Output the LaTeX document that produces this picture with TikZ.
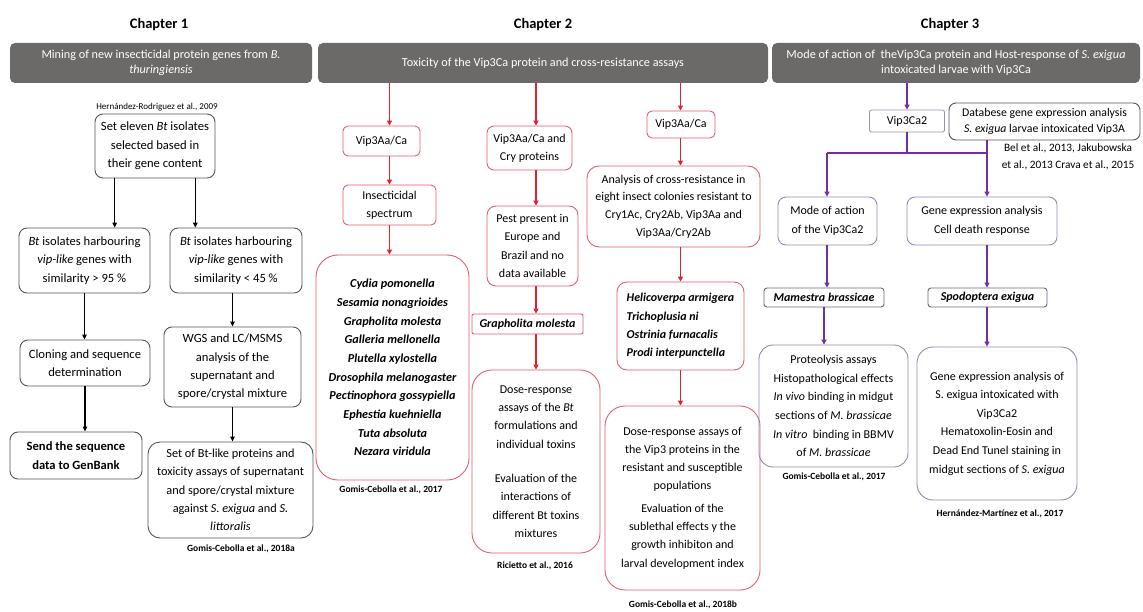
\documentclass[tikz,border=0pt]{standalone}
\usepackage{fontspec}
\setmainfont{Carlito}
\usetikzlibrary{arrows.meta,calc}
\definecolor{bangray}{RGB}{108,105,105}
\definecolor{boxgray}{RGB}{85,85,85}
\definecolor{redarr}{RGB}{222,35,45}
\definecolor{redbox}{RGB}{225,95,110}
\definecolor{purarr}{RGB}{112,48,160}
\definecolor{purbox}{RGB}{150,135,185}
\definecolor{purdark}{RGB}{110,100,140}
\begin{document}
\begin{tikzpicture}[x=1pt,y=-1pt,
  sz/.style 2 args={minimum width=#1pt, minimum height=#2pt},
  banner/.style={fill=bangray, rounded corners=5pt, text=white, align=center, inner sep=0pt,
    font=\fontsize{12.2}{15}\selectfont},
  chap/.style={font=\fontsize{14.5}{17}\selectfont\bfseries},
  kbox/.style={draw=boxgray, line width=0.9pt, rounded corners=8pt, align=center, inner sep=0pt,
    font=\fontsize{12.6}{18.3}\selectfont},
  rbox/.style={draw=redbox, line width=0.9pt, rounded corners=5pt, align=center, inner sep=0pt,
    font=\fontsize{12}{18.3}\selectfont},
  pbox/.style={draw=purbox, line width=0.9pt, rounded corners=8pt, align=center, inner sep=0pt,
    font=\fontsize{12}{18.6}\selectfont},
  cite/.style={font=\fontsize{9.5}{11}\selectfont\bfseries, inner sep=0pt},
  karr/.style={-{Triangle[length=5pt,width=4.5pt]}, line width=1.4pt, black},
  rarr/.style={-{Triangle[length=5pt,width=5pt]}, line width=1.4pt, redarr},
  parr/.style={-{Triangle[length=5pt,width=5pt]}, line width=1.4pt, purarr},
  pline/.style={line width=1.6pt, purarr}
]
\useasboundingbox (0,0) rectangle (1143,612);
\fill[white] (0,0) rectangle (1143,612);

% ---------- headings and banners
\node[chap] (h1) at (159,25) {Chapter 1};
\node[chap] (h2) at (543,25) {Chapter 2};
\node[chap] (h3) at (950,25) {Chapter 3};

\node[banner, sz={302}{40}] (ban1) at (161,63) {Mining of new insecticidal protein genes from \textit{B.}\\\textit{thuringiensis}};
\node[banner, sz={450}{40}] (ban2) at (543,63) {Toxicity of the Vip3Ca protein and cross-resistance assays};
\node[banner, sz={368}{40}] (ban3) at (956,63) {Mode of action of\ \ theVip3Ca protein and Host-response of \textit{S. exigua}\\intoxicated larvae with Vip3Ca};

% ---------- Chapter 1
\node[font=\fontsize{9}{11}\selectfont, inner sep=0pt] (hr09) at (157,107) {Hernández-Rodriguez et al., 2009};
\node[kbox, sz={120}{64}] (set) at (155,146) {Set eleven \textit{Bt} isolates\\selected based in\\their gene content};
\node[kbox, sz={131}{65}] (b95) at (84.5,260.5) {\textit{Bt} isolates harbouring\\\textit{vip-like} genes with\\similarity > 95 \%};
\node[kbox, sz={132}{65}] (b45) at (236,260.5) {\textit{Bt} isolates harbouring\\\textit{vip-like} genes with\\similarity < 45 \%};
\node[kbox, sz={130}{46}] (clon) at (85,363) {Cloning and sequence\\determination};
\node[kbox, sz={137}{80}] (wgs) at (232.5,367) {WGS and LC/MSMS\\analysis of the\\supernatant and\\spore/crystal mixture};
\node[kbox, sz={132}{47}, font=\fontsize{12.6}{18.3}\selectfont\bfseries] (send) at (76,455.5) {Send the sequence\\data to GenBank};
\node[kbox, sz={165}{96}, rounded corners=12pt, font=\fontsize{12.3}{18.3}\selectfont] (setbt) at (230.5,490) {Set of Bt-like proteins and\\toxicity assays of supernatant\\and spore/crystal mixture\\against \textit{S. exigua} and \textit{S.}\\\textit{littoralis}};
\node[cite] (g18a) at (241,549) {Gomis-Cebolla et al., 2018a};

\coordinate (s1) at ($(set.south west)!0.1667!(set.south east)$);
\coordinate (s2) at ($(set.south west)!0.8333!(set.south east)$);
\draw[karr] (s1) -- (s1 |- b95.north);
\draw[karr] (s2) -- (s2 |- b45.north);
\draw[karr] (b95.south) -- (b95.south |- clon.north);
\draw[karr] (clon.south) -- (clon.south |- send.north);
\draw[karr] (b45.south -| wgs) -- (wgs.north);
\draw[karr] (wgs.south) -- (wgs.south |- setbt.north);

% ---------- Chapter 2, column A
\node[rbox, sz={77}{30}] (vA1) at (381.5,141) {Vip3Aa/Ca};
\node[rbox, sz={93}{40}] (ins) at (389.5,205) {Insecticidal\\spectrum};
\node[rbox, sz={153}{225}, rounded corners=22pt, font=\fontsize{12.2}{18.67}\selectfont\bfseries\itshape] (spA) at (392.5,367.5)
 {Cydia pomonella\\Sesamia nonagrioides\\Grapholita molesta\\Galleria mellonella\\Plutella xylostella\\Drosophila melanogaster\\Pectinophora gossypiella\\Ephestia kuehniella\\Tuta absoluta\\Nezara viridula};
\node[cite] (g17a) at (391,490) {Gomis-Cebolla et al., 2017};

\draw[rarr] (ban2.south -| ins) -- (ins |- vA1.north);
\draw[rarr] (ins |- vA1.south) -- (ins.north);
\draw[rarr] (ins.south) -- (ins.south |- spA.north);

% ---------- Chapter 2, column B
\node[rbox, sz={85}{44}, rounded corners=7pt] (vB) at (529.5,148) {Vip3Aa/Ca and\\Cry proteins};
\node[rbox, sz={91}{80}, rounded corners=9pt] (pest) at (532.5,246) {Pest present in\\Europe and\\Brazil and no\\data available};
\node[rbox, sz={111}{20}, rounded corners=2pt, font=\fontsize{12}{14}\selectfont\bfseries\itshape] (grap) at (527.5,324) {Grapholita molesta};
\node[rbox, sz={128}{183}, rounded corners=20pt] (doseB) at (536,461.5) {Dose-response\\assays of the \textit{Bt}\\formulations and\\individual toxins\\[16pt]Evaluation of the\\interactions of\\different Bt toxins\\mixtures};
\node[cite] (ric) at (535,566) {Ricietto et al., 2016};

\draw[rarr] (ban2.south -| doseB) -- (doseB |- vB.north);
\draw[rarr] (doseB |- vB.south) -- (doseB |- pest.north);
\draw[rarr] (doseB |- pest.south) -- (doseB |- grap.north);
\draw[rarr] (doseB |- grap.south) -- (doseB.north);

% ---------- Chapter 2, column C
\node[rbox, sz={68}{27}] (vC) at (681,124.5) {Vip3Aa/Ca};
\node[rbox, sz={173}{81}, rounded corners=12pt, font=\fontsize{12}{17.7}\selectfont] (anal) at (673.5,206.5) {Analysis of cross-resistance in\\eight insect colonies resistant to\\Cry1Ac, Cry2Ab, Vip3Aa and\\Vip3Aa/Cry2Ab};
\node[rbox, sz={127}{88}, rounded corners=10pt, align=left, font=\fontsize{12}{18.3}\selectfont\bfseries\itshape] (heli) at (680.5,326) {Helicoverpa armigera\\Trichoplusia ni\\Ostrinia furnacalis\\Prodi interpunctella};
\node[rbox, sz={155}{184}, rounded corners=20pt] (doseC) at (682.5,498) {Dose-response assays of\\the Vip3 proteins in the\\resistant and susceptible\\populations\\[4pt]Evaluation of the\\sublethal effects y the\\growth inhibiton and\\larval development index};
\node[cite] (g18b) at (683,605) {Gomis-Cebolla et al., 2018b};

\draw[rarr] (ban2.south -| heli) -- (heli |- vC.north);
\draw[rarr] (heli |- vC.south) -- (heli |- anal.north);
\draw[rarr] (heli |- anal.south) -- (heli.north);
\draw[rarr] (heli.south) -- (heli.south |- doseC.north);

% ---------- Chapter 3
\node[draw=purdark!70, line width=0.8pt, rounded corners=2pt, sz={75}{22}, inner sep=0pt, font=\fontsize{12}{14}\selectfont] (vip) at (907,121) {Vip3Ca2};
\node[draw=boxgray, line width=0.9pt, rounded corners=7pt, sz={191}{37}, inner sep=0pt, align=center, font=\fontsize{11.8}{16}\selectfont] (db) at (1044.5,121.5) {Databese gene expression analysis\\\textit{S. exigua} larvae intoxicated Vip3A};
\node[align=center, inner sep=0pt, font=\fontsize{11.3}{17}\selectfont] (bel) at (1068,156.5) {Bel et al., 2013, Jakubowska\\et al., 2013 Crava et al., 2015};
\node[pbox, sz={99}{48}] (moa) at (827.5,221) {Mode of action\\of the Vip3Ca2};
\node[pbox, sz={150}{48}] (gea) at (982,221) {Gene expression analysis\\Cell death response};
\node[pbox, draw=purdark, sz={120}{19}, rounded corners=3pt, font=\fontsize{12}{14}\selectfont\bfseries\itshape] (mam) at (824,297.5) {Mamestra brassicae};
\node[pbox, draw=purdark, sz={119}{19}, rounded corners=3pt, font=\fontsize{12}{14}\selectfont\bfseries\itshape] (spod) at (987.5,297.5) {Spodoptera exigua};
\node[pbox, sz={149}{122}, rounded corners=14pt] (prot) at (833.5,406) {Proteolysis assays\\Histopathological effects\\\textit{In vivo} binding in midgut\\sections of \textit{M. brassicae}\\\textit{In vitro}\ \ binding in BBMV\\of \textit{M. brassicae}};
\node[pbox, sz={160}{153}, rounded corners=16pt] (gene) at (997,423.5) {Gene expression analysis of\\S. exigua intoxicated with\\Vip3Ca2\\Hematoxolin-Eosin and\\Dead End Tunel staining in\\midgut sections of \textit{S. exigua}};
\node[cite] (g17c) at (834,477) {Gomis-Cebolla et al., 2017};
\node[cite] (hm17) at (1000,514) {Hernández-Martínez et al., 2017};

\coordinate (jL) at (827,153);
\coordinate (jR) at (987,153);
\draw[parr] (ban3.south -| vip) -- (vip.north);
\draw[pline] (vip.south) -- (vip.south |- jL);
\draw[pline] (jL) -- (jR);
\draw[pline] (jR |- db.south) -- (jR);
\draw[parr] (jL) -- (jL |- moa.north);
\draw[parr] (jR) -- (jR |- gea.north);
\draw[parr] (jL |- moa.south) -- (jL |- mam.north);
\draw[parr] (jR |- gea.south) -- (jR |- spod.north);
\draw[parr] (mam.south) -- (mam.south |- prot.north);
\draw[parr] (jR |- spod.south) -- (jR |- gene.north);
\end{tikzpicture}
\end{document}
